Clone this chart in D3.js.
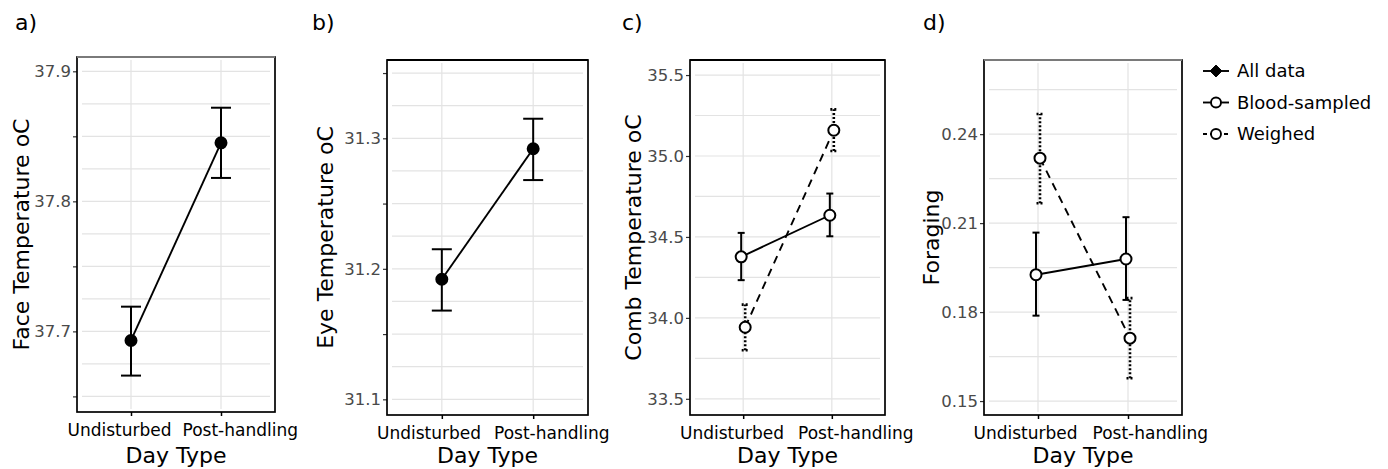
<!DOCTYPE html>
<html>
<head>
<meta charset="utf-8">
<script src="https://cdn.jsdelivr.net/npm/d3@7"></script>
<style>
  html, body { margin: 0; padding: 0; background: #fff; }
  svg { display: block; font-family: "DejaVu Sans", Verdana, sans-serif; }
</style>
</head>
<body>
<svg id="chart" width="1388" height="469"></svg>
<script>
// ---------------- DATA ----------------
const categories = ["Undisturbed", "Post-handling"];

// a) Face temperature (All data)
const faceMean = [37.693, 37.845];
const faceLo   = [37.666, 37.818];
const faceHi   = [37.719, 37.872];
const faceGrid  = [37.65, 37.675, 37.7, 37.725, 37.75, 37.775, 37.8, 37.825, 37.85, 37.875, 37.9];
const faceTicks = [37.65, 37.7, 37.75, 37.8, 37.85, 37.9];
const faceLabels = [37.7, 37.8, 37.9];

// b) Eye temperature (All data)
const eyeMean = [31.192, 31.292];
const eyeLo   = [31.168, 31.268];
const eyeHi   = [31.215, 31.315];
const eyeGrid  = [31.1, 31.125, 31.15, 31.175, 31.2, 31.225, 31.25, 31.275, 31.3, 31.325, 31.35];
const eyeTicks = [31.1, 31.15, 31.2, 31.25, 31.3, 31.35];
const eyeLabels = [31.1, 31.2, 31.3];

// c) Comb temperature
const combBloodMean = [34.377, 34.634];
const combBloodLo   = [34.233, 34.504];
const combBloodHi   = [34.525, 34.768];
const combWeighMean = [33.942, 35.159];
const combWeighLo   = [33.800, 35.031];
const combWeighHi   = [34.082, 35.288];
const combGrid  = [33.5, 33.75, 34.0, 34.25, 34.5, 34.75, 35.0, 35.25, 35.5];
const combTicks = [33.5, 34.0, 34.5, 35.0, 35.5];
const combLabels = [33.5, 34.0, 34.5, 35.0, 35.5];

// d) Foraging
const forBloodMean = [0.1926, 0.1979];
const forBloodLo   = [0.1788, 0.1841];
const forBloodHi   = [0.2068, 0.2120];
const forWeighMean = [0.2319, 0.1712];
const forWeighLo   = [0.2167, 0.1577];
const forWeighHi   = [0.2468, 0.1847];
const forGrid  = [0.15, 0.165, 0.18, 0.195, 0.21, 0.225, 0.24, 0.255];
const forTicks = [0.15, 0.18, 0.21, 0.24];
const forLabels = [0.15, 0.18, 0.21, 0.24];

const legendLabels = ["All data", "Blood-sampled", "Weighed"];

// ---------------- CONFIG ----------------
const panels = [
  { label: "a)", title: "Face Temperature oC", domain: [37.638, 37.911], grid: faceGrid, ticks: faceTicks, labels: faceLabels, fmt: ".1f",
    series: [{ kind: "all", mean: faceMean, lo: faceLo, hi: faceHi }] },
  { label: "b)", title: "Eye Temperature oC", domain: [31.088, 31.360], grid: eyeGrid, ticks: eyeTicks, labels: eyeLabels, fmt: ".1f",
    series: [{ kind: "all", mean: eyeMean, lo: eyeLo, hi: eyeHi }] },
  { label: "c)", title: "Comb Temperature oC", domain: [33.40, 35.593], grid: combGrid, ticks: combTicks, labels: combLabels, fmt: ".1f",
    series: [{ kind: "blood", mean: combBloodMean, lo: combBloodLo, hi: combBloodHi },
             { kind: "weigh", mean: combWeighMean, lo: combWeighLo, hi: combWeighHi }] },
  { label: "d)", title: "Foraging", domain: [0.1453, 0.265], grid: forGrid, ticks: forTicks, labels: forLabels, fmt: ".2f",
    series: [{ kind: "blood", mean: forBloodMean, lo: forBloodLo, hi: forBloodHi },
             { kind: "weigh", mean: forWeighMean, lo: forWeighLo, hi: forWeighHi }] }
];

const layout = [
  { left: 77,  right: 275,  top: 57, bottom: 412, labelX: 15,  titleX: 29,  topColor: "#7a7a7a", gapEnd: 5, gapStart: 6 },
  { left: 387, right: 588,  top: 60, bottom: 415, labelX: 312, titleX: 333, topColor: "#000",    gapEnd: 7, gapStart: 6 },
  { left: 690, right: 885,  top: 60, bottom: 415, labelX: 622, titleX: 641, topColor: "#000",    gapEnd: 4, gapStart: 10 },
  { left: 984, right: 1182, top: 60, bottom: 415, labelX: 923, titleX: 939, topColor: "#7a7a7a", gapEnd: 6, gapStart: 9 }
];

const styles = {
  all:   { dodge: 0,    line: null,  bar: null,  cap: 10,  fill: "#000", r: 5.5 },
  blood: { dodge: -2,   line: null,  bar: null,  cap: 3.5, fill: "#fff", r: 5.5 },
  weigh: { dodge: 2,    line: "8,6", bar: "2,2", cap: 3.5, fill: "#fff", r: 5.5 }
};

// ---------------- DRAW ----------------
const svg = d3.select("#chart");
svg.append("rect").attr("width", 1388).attr("height", 469).attr("fill", "#fff");

panels.forEach((p, i) => {
  const L = layout[i];
  const g = svg.append("g");
  const x = d3.scalePoint().domain(categories).range([L.left, L.right]).padding(0.6);
  const y = d3.scaleLinear().domain(p.domain).range([L.bottom, L.top]);

  // gridlines
  g.append("g").selectAll("line").data(p.grid).join("line")
    .attr("x1", L.left + 5).attr("x2", L.right - 5)
    .attr("y1", d => y(d)).attr("y2", d => y(d))
    .attr("stroke", "#e3e3e3").attr("stroke-width", 1.2);
  g.append("g").selectAll("line").data(categories).join("line")
    .attr("x1", d => x(d)).attr("x2", d => x(d))
    .attr("y1", L.top + 3).attr("y2", L.bottom - 3)
    .attr("stroke", "#e3e3e3").attr("stroke-width", 1.2);

  // y axis
  const fmt = d3.format(p.fmt);
  const yAxis = d3.axisLeft(y).tickValues(p.ticks).tickSize(4).tickPadding(2)
    .tickFormat(d => p.labels.some(v => Math.abs(v - d) < 1e-9) ? fmt(d) : "");
  const ya = g.append("g").attr("transform", `translate(${L.left},0)`).call(yAxis);
  ya.select(".domain").remove();
  ya.selectAll("line").attr("stroke", "#333").attr("stroke-width", 1.2);
  ya.selectAll("text").attr("font-size", 16.5).attr("fill", "#4a4a4a").attr("font-family", "DejaVu Sans");

  // x axis
  const xAxis = d3.axisBottom(x).tickSize(4).tickPadding(8);
  const xa = g.append("g").attr("transform", `translate(0,${L.bottom})`).call(xAxis);
  xa.select(".domain").remove();
  xa.selectAll("line").attr("stroke", "#000").attr("stroke-width", 1.5);
  const mid = (x(categories[0]) + x(categories[1])) / 2;
  xa.selectAll(".tick text")
    .attr("font-size", 17).attr("fill", "#000").attr("font-family", "DejaVu Sans")
    .attr("text-anchor", (d, j) => j === 0 ? "end" : "start")
    .attr("x", (d, j) => j === 0 ? (mid - L.gapEnd) - x(d) : (mid + L.gapStart) - x(d));

  // panel border
  g.append("rect").attr("x", L.left).attr("y", L.top)
    .attr("width", L.right - L.left).attr("height", L.bottom - L.top)
    .attr("fill", "none").attr("stroke", "#000").attr("stroke-width", 1.7);
  g.append("line").attr("x1", L.left).attr("x2", L.right).attr("y1", L.top).attr("y2", L.top)
    .attr("stroke", L.topColor).attr("stroke-width", 2.2);

  // axis titles
  g.append("text").attr("x", mid).attr("y", 463).attr("text-anchor", "middle")
    .attr("font-size", 22).attr("fill", "#000").text("Day Type");
  g.append("text")
    .attr("transform", `translate(${L.titleX},${(L.top + L.bottom) / 2}) rotate(-90)`)
    .attr("text-anchor", "middle").attr("font-size", 22).attr("fill", "#000").text(p.title);

  // panel label
  g.append("text").attr("x", L.labelX).attr("y", 30).attr("font-size", 22).attr("fill", "#000").text(p.label);

  // series
  p.series.forEach(s => {
    const st = styles[s.kind];
    const pts = categories.map((c, k) => ({ cx: x(c) + st.dodge, m: s.mean[k], lo: s.lo[k], hi: s.hi[k] }));
    // error bars
    const eb = g.append("g").attr("stroke", "#000").attr("stroke-width", s.kind === "weigh" ? 2.6 : 2)
      .attr("stroke-dasharray", st.bar);
    eb.selectAll("line.v").data(pts).join("line").attr("class", "v")
      .attr("x1", d => d.cx).attr("x2", d => d.cx).attr("y1", d => y(d.lo)).attr("y2", d => y(d.hi));
    eb.selectAll("line.lo").data(pts).join("line").attr("class", "lo")
      .attr("x1", d => d.cx - st.cap).attr("x2", d => d.cx + st.cap).attr("y1", d => y(d.lo)).attr("y2", d => y(d.lo));
    eb.selectAll("line.hi").data(pts).join("line").attr("class", "hi")
      .attr("x1", d => d.cx - st.cap).attr("x2", d => d.cx + st.cap).attr("y1", d => y(d.hi)).attr("y2", d => y(d.hi));
    // connecting line
    g.append("path").datum(pts)
      .attr("d", d3.line().x(d => d.cx).y(d => y(d.m)))
      .attr("fill", "none").attr("stroke", "#000").attr("stroke-width", 1.9)
      .attr("stroke-dasharray", st.line);
    // markers
    g.append("g").selectAll("circle").data(pts).join("circle")
      .attr("cx", d => d.cx).attr("cy", d => y(d.m)).attr("r", st.r)
      .attr("fill", st.fill).attr("stroke", "#000").attr("stroke-width", 2);
  });
});

// ---------------- LEGEND ----------------
const legendKinds = ["all", "blood", "weigh"];
const lg = svg.append("g");
const ly = d3.scalePoint().domain(legendLabels).range([71, 134]);
legendLabels.forEach((lab, i) => {
  const kind = legendKinds[i];
  const cy = ly(lab);
  lg.append("line").attr("x1", 1203).attr("x2", 1229).attr("y1", cy).attr("y2", cy)
    .attr("stroke", "#000").attr("stroke-width", 1.9)
    .attr("stroke-dasharray", kind === "weigh" ? "4,3" : null);
  if (kind === "all") {
    lg.append("path").attr("d", d3.symbol().type(d3.symbolDiamond2).size(90)())
      .attr("transform", `translate(1216,${cy})`).attr("fill", "#000").attr("stroke", "#000").attr("stroke-width", 1);
  } else {
    lg.append("circle").attr("cx", 1216).attr("cy", cy).attr("r", 5)
      .attr("fill", "#fff").attr("stroke", "#000").attr("stroke-width", 1.9);
  }
  lg.append("text").attr("x", 1237).attr("y", cy).attr("dy", "0.36em")
    .attr("font-size", 18).attr("fill", "#000").text(lab);
});
</script>
</body>
</html>
